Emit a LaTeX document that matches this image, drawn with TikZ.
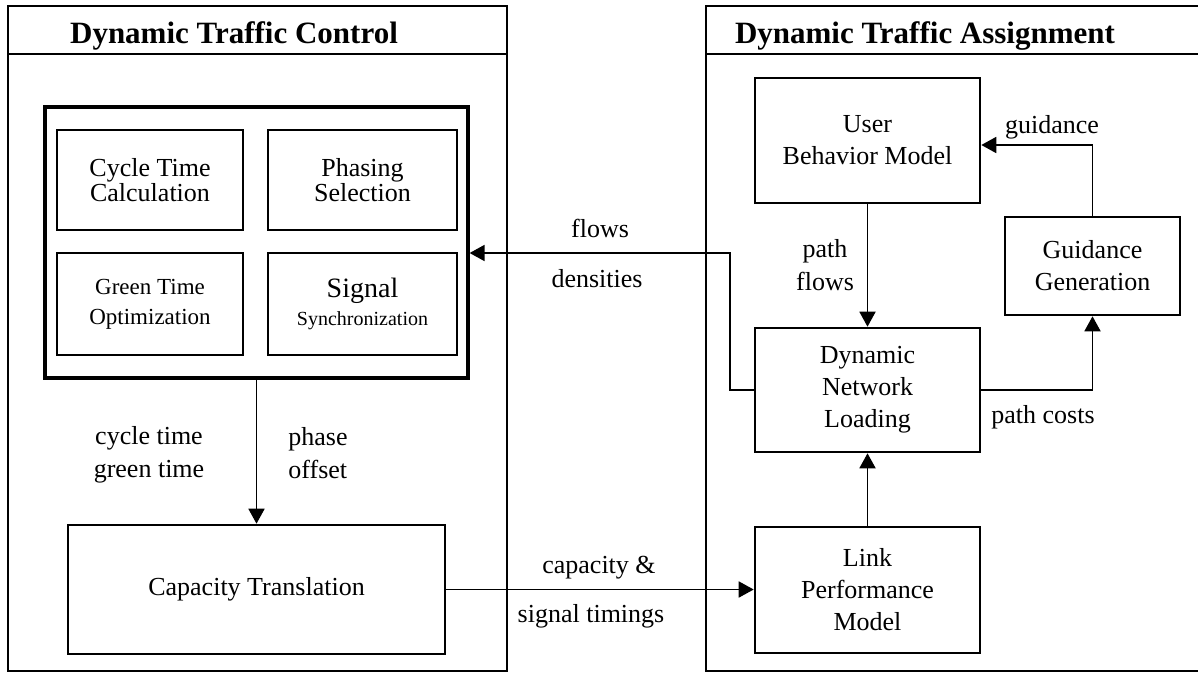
\documentclass[tikz,border=0pt]{standalone}
\usepackage{fontspec}
\setmainfont{Liberation Serif}
\usetikzlibrary{arrows.meta,positioning,calc}

\tikzset{
  panel/.style={draw, line width=1.1pt},
  blockbox/.style={draw, line width=1.3pt, align=center, inner sep=0pt, font=\fontsize{13}{16}\selectfont},
  arr/.style={-{Triangle[length=7.5pt,width=8pt]}, line width=0.9pt},
  lbl/.style={align=center, inner sep=0pt, font=\fontsize{13}{16.5}\selectfont},
  paneltitle/.style={inner sep=0pt, font=\fontsize{15.5}{18}\selectfont\bfseries}
}

\begin{document}
\begin{tikzpicture}[x=0.5pt, y=-0.5pt]
  \useasboundingbox (0,0) rectangle (1198,675);

  % Panels
  \draw[panel] (8,6) rectangle (507,671);
  \draw[panel] (8,54) -- (507,54);
  \draw[panel] (1198,6) -- (706,6) -- (706,671) -- (1198,671);
  \draw[panel] (706,54) -- (1198,54);
  \node[paneltitle, anchor=base] (dtc) at (234,43) {Dynamic Traffic Control};
  \node[paneltitle, anchor=base] (dta) at (925,43) {Dynamic Traffic Assignment};

  % Control side
  \node[draw, line width=1.6pt, minimum width=211.5pt, minimum height=135.5pt] (group) at (256.5,242.5) {};
  \node[blockbox, minimum width=93pt, minimum height=50pt, font=\fontsize{13}{12.5}\selectfont] (cycle) at (150,180) {Cycle Time\\Calculation};
  \node[blockbox, minimum width=94.5pt, minimum height=50pt, font=\fontsize{13}{12.5}\selectfont] (phasing) at (362.5,180) {Phasing\\Selection};
  \node[blockbox, minimum width=93pt, minimum height=51pt, font=\fontsize{11.5}{15}\selectfont] (green) at (150,304) {Green Time\\Optimization};
  \node[blockbox, minimum width=94.5pt, minimum height=51pt, font=\fontsize{13}{14}\selectfont] (signal) at (362.5,304) {{\fontsize{14}{14}\selectfont Signal}\\{\fontsize{10}{14}\selectfont Synchronization}};
  \node[blockbox, minimum width=188.5pt, minimum height=64.5pt] (capacity) at (256.5,589.5) {Capacity Translation};

  % Assignment side
  \node[blockbox, minimum width=112.5pt, minimum height=62.5pt] (ubm) at (867.5,140.5) {User\\Behavior Model};
  \node[blockbox, minimum width=87.5pt, minimum height=49pt] (guide) at (1092.5,266) {Guidance\\Generation};
  \node[blockbox, minimum width=112.5pt, minimum height=62pt] (dnl) at (867.5,390) {Dynamic\\Network\\Loading};
  \node[blockbox, minimum width=112.5pt, minimum height=63pt] (link) at (867.5,590) {Link\\Performance\\Model};

  % Connectors
  \draw[arr] (group.south) -- (capacity.north);
  \draw[arr] (capacity.east) -- (capacity.east -| link.west);
  \draw[arr] (link.north) -- (dnl.south);
  \draw[arr] (ubm.south) -- (dnl.north);
  \draw[arr] (dnl.east) -| (guide.south);
  \draw[arr] (guide.north) |- ($(ubm.east)+(0,4.5)$);
  \coordinate (bend) at (730,253);
  \draw[arr] (dnl.west) -| (bend) -- (bend -| group.east);

  % Labels
  \node[lbl] (ctgt) at (149,455) {cycle time\\green time};
  \node[lbl, align=left, anchor=west] (po) at (288,453) {phase\\offset};
  \node[lbl, anchor=base] (fl) at (600,237) {flows};
  \node[lbl, anchor=base] (dens) at (597,287) {densities};
  \node[lbl, anchor=base] (cap) at (599,573) {capacity \&};
  \node[lbl, anchor=base] (sigt) at (591,622) {signal timings};
  \node[lbl] (pf) at (825,265) {path\\flows};
  \node[lbl, anchor=base] (gd) at (1052,133) {guidance};
  \node[lbl, anchor=base] (pc) at (1043,423) {path costs};
\end{tikzpicture}
\end{document}
